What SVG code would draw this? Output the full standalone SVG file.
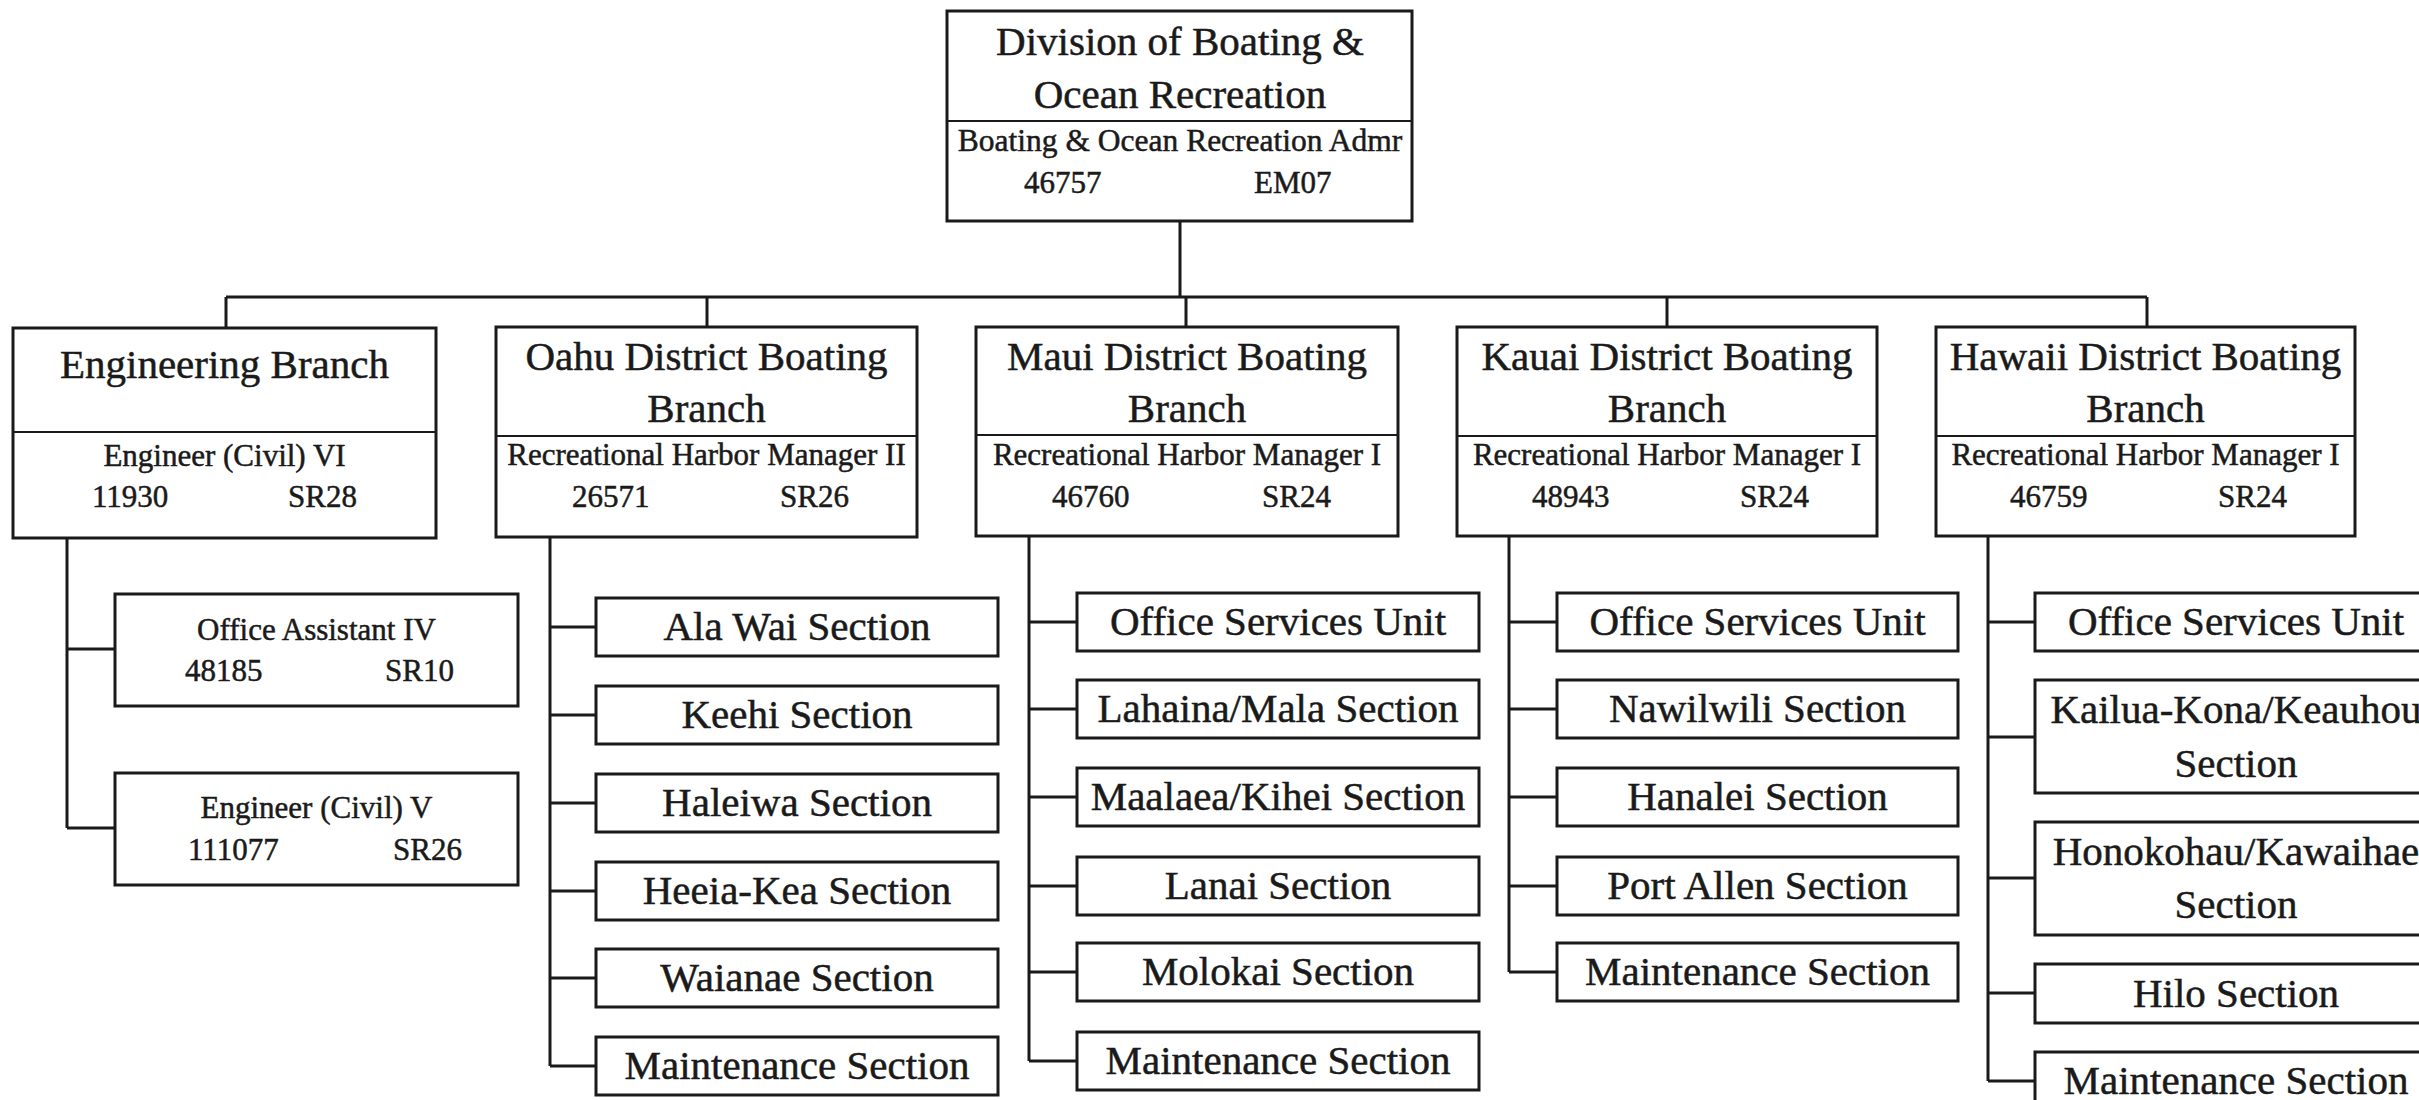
<svg xmlns="http://www.w3.org/2000/svg" width="2419" height="1100" viewBox="0 0 2419 1100">
<style>
.box{fill:#fff;stroke:#1a1a1a;stroke-width:3}
.div{stroke:#1a1a1a;stroke-width:2}
.ln{stroke:#1a1a1a;stroke-width:3;fill:none}
text{font-family:"Liberation Serif","Times New Roman",serif;fill:#1a1a1a;stroke:#1a1a1a;stroke-width:0.5}
.h{font-size:41px;text-anchor:middle}
.s{font-size:31px;text-anchor:middle}
.n{font-size:31px}
.sec{font-size:41px;text-anchor:middle}
</style>
<rect width="2419" height="1100" fill="#fff"/>
<g id="connectors">
<path class="ln" d="M1180 221V297M226 297H2147M226 297V328M707 297V327M1186 297V327M1667 297V327M2147 297V327"/>
<path class="ln" d="M67 538V828M67 649H115M67 828H115"/>
<path class="ln" d="M550 537V1066M550 627H596M550 715H596M550 803H596M550 891H596M550 978H596M550 1066H596"/>
<path class="ln" d="M1029 536V1061M1029 622H1077M1029 709H1077M1029 797H1077M1029 886H1077M1029 972H1077M1029 1061H1077"/>
<path class="ln" d="M1509 536V972M1509 622H1557M1509 709H1557M1509 797H1557M1509 886H1557M1509 972H1557"/>
<path class="ln" d="M1988 536V1081M1988 622H2035M1988 737H2035M1988 878H2035M1988 993H2035M1988 1081H2035"/>
</g>
<g id="top">
<rect class="box" x="947" y="11" width="465" height="210"/>
<line class="div" x1="947" y1="121" x2="1412" y2="121"/>
<text class="h" x="1180" y="55">Division of Boating &amp;</text>
<text class="h" x="1180" y="108">Ocean Recreation</text>
<text class="s" x="1180" y="151" style="font-size:31.5px">Boating &amp; Ocean Recreation Admr</text>
<text class="n" x="1024" y="193">46757</text>
<text class="n" x="1254" y="193">EM07</text>
</g>
<g id="engineering">
<rect class="box" x="13" y="328" width="423" height="210"/>
<line class="div" x1="13" y1="432" x2="436" y2="432"/>
<text class="h" x="224.5" y="378">Engineering Branch</text>
<text class="s" x="224.5" y="466">Engineer (Civil) VI</text>
<text class="n" x="92" y="507">11930</text>
<text class="n" x="288" y="507">SR28</text>
</g>
<g id="eng-oa">
<rect class="box" x="115" y="594" width="403" height="112"/>
<text class="n" x="316.5" y="640" text-anchor="middle">Office Assistant IV</text>
<text class="n" x="185" y="681">48185</text>
<text class="n" x="385" y="681">SR10</text>
</g>
<g id="eng-civ5">
<rect class="box" x="115" y="773" width="403" height="112"/>
<text class="n" x="316.5" y="818" text-anchor="middle">Engineer (Civil) V</text>
<text class="n" x="188" y="860">111077</text>
<text class="n" x="393" y="860">SR26</text>
</g>
<g id="oahu">
<rect class="box" x="496" y="327" width="421" height="210"/>
<line class="div" x1="496" y1="436" x2="917" y2="436"/>
<text class="h" x="706.5" y="370">Oahu District Boating</text>
<text class="h" x="706.5" y="422">Branch</text>
<text class="s" x="706.5" y="465">Recreational Harbor Manager II</text>
<text class="n" x="572" y="507">26571</text>
<text class="n" x="780" y="507">SR26</text>
</g>
<g id="oahu-sections">
<rect class="box" x="596" y="598" width="402" height="58"/><text class="sec" x="797" y="640">Ala Wai Section</text>
<rect class="box" x="596" y="686" width="402" height="58"/><text class="sec" x="797" y="728">Keehi Section</text>
<rect class="box" x="596" y="774" width="402" height="58"/><text class="sec" x="797" y="816">Haleiwa Section</text>
<rect class="box" x="596" y="862" width="402" height="58"/><text class="sec" x="797" y="904">Heeia-Kea Section</text>
<rect class="box" x="596" y="949" width="402" height="58"/><text class="sec" x="797" y="991">Waianae Section</text>
<rect class="box" x="596" y="1037" width="402" height="58"/><text class="sec" x="797" y="1079">Maintenance Section</text>
</g>
<g id="maui">
<rect class="box" x="976" y="327" width="422" height="209"/>
<line class="div" x1="976" y1="435" x2="1398" y2="435"/>
<text class="h" x="1187" y="370">Maui District Boating</text>
<text class="h" x="1187" y="422">Branch</text>
<text class="s" x="1187" y="465">Recreational Harbor Manager I</text>
<text class="n" x="1052" y="507">46760</text>
<text class="n" x="1262" y="507">SR24</text>
</g>
<g id="maui-sections">
<rect class="box" x="1077" y="593" width="402" height="58"/><text class="sec" x="1278" y="635">Office Services Unit</text>
<rect class="box" x="1077" y="680" width="402" height="58"/><text class="sec" x="1278" y="722">Lahaina/Mala Section</text>
<rect class="box" x="1077" y="768" width="402" height="58"/><text class="sec" x="1278" y="810">Maalaea/Kihei Section</text>
<rect class="box" x="1077" y="857" width="402" height="58"/><text class="sec" x="1278" y="899">Lanai Section</text>
<rect class="box" x="1077" y="943" width="402" height="58"/><text class="sec" x="1278" y="985">Molokai Section</text>
<rect class="box" x="1077" y="1032" width="402" height="58"/><text class="sec" x="1278" y="1074">Maintenance Section</text>
</g>
<g id="kauai">
<rect class="box" x="1457" y="327" width="420" height="209"/>
<line class="div" x1="1457" y1="436" x2="1877" y2="436"/>
<text class="h" x="1667" y="370">Kauai District Boating</text>
<text class="h" x="1667" y="422">Branch</text>
<text class="s" x="1667" y="465">Recreational Harbor Manager I</text>
<text class="n" x="1532" y="507">48943</text>
<text class="n" x="1740" y="507">SR24</text>
</g>
<g id="kauai-sections">
<rect class="box" x="1557" y="593" width="401" height="58"/><text class="sec" x="1757.5" y="635">Office Services Unit</text>
<rect class="box" x="1557" y="680" width="401" height="58"/><text class="sec" x="1757.5" y="722">Nawilwili Section</text>
<rect class="box" x="1557" y="768" width="401" height="58"/><text class="sec" x="1757.5" y="810">Hanalei Section</text>
<rect class="box" x="1557" y="857" width="401" height="58"/><text class="sec" x="1757.5" y="899">Port Allen Section</text>
<rect class="box" x="1557" y="943" width="401" height="58"/><text class="sec" x="1757.5" y="985">Maintenance Section</text>
</g>
<g id="hawaii">
<rect class="box" x="1936" y="327" width="419" height="209"/>
<line class="div" x1="1936" y1="436" x2="2355" y2="436"/>
<text class="h" x="2145.5" y="370">Hawaii District Boating</text>
<text class="h" x="2145.5" y="422">Branch</text>
<text class="s" x="2145.5" y="465">Recreational Harbor Manager I</text>
<text class="n" x="2010" y="507">46759</text>
<text class="n" x="2218" y="507">SR24</text>
</g>
<g id="hawaii-sections">
<rect class="box" x="2035" y="593" width="402" height="58"/><text class="sec" x="2236" y="635">Office Services Unit</text>
<rect class="box" x="2035" y="680" width="402" height="113"/><text class="sec" x="2236" y="723">Kailua-Kona/Keauhou</text><text class="sec" x="2236" y="777">Section</text>
<rect class="box" x="2035" y="822" width="402" height="113"/><text class="sec" x="2236" y="865">Honokohau/Kawaihae</text><text class="sec" x="2236" y="918">Section</text>
<rect class="box" x="2035" y="964" width="402" height="59"/><text class="sec" x="2236" y="1007">Hilo Section</text>
<rect class="box" x="2035" y="1052" width="402" height="58"/><text class="sec" x="2236" y="1094">Maintenance Section</text>
</g>
</svg>
